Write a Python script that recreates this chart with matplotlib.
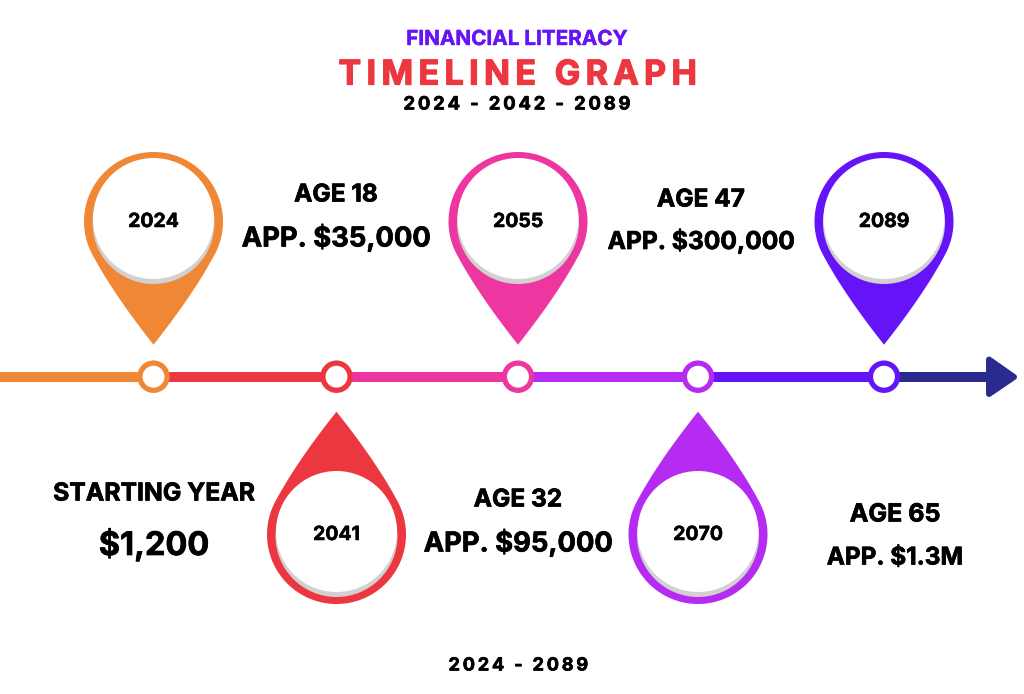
import numpy as np
import matplotlib
matplotlib.use("Agg")
import matplotlib.pyplot as plt
import matplotlib.patheffects as pe
from matplotlib.patches import Circle, Polygon

plt.rcParams['font.family'] = ['Inter', 'DejaVu Sans']

# data
years = ["2024", "2041", "2055", "2070", "2089"]
ages = ["STARTING YEAR", "AGE 18", "AGE 32", "AGE 47", "AGE 65"]
amounts = ["$1,200", "APP. $35,000", "APP. $95,000", "APP. $300,000", "APP. $1.3M"]
pin_colors = ["#F08735", "#EC3740", "#EE36A0", "#B52BF2", "#6414F6"]
end_color = "#2B2A8E"

# layout, in pixels of the 1024x694 picture
node_x = [153.5, 336.5, 518, 698, 884]
pin_up = [True, False, True, False, True]
line_y = 376.7
label_pos = [(154, 494, 545), (336, 195, 238), (518, 500, 543), (701, 200, 241), (895, 515, 558)]
label_size = [(17.8, 23.4), (17.6, 19.7), (17.6, 19.7), (17.6, 17.7), (18, 17.5)]
HS = "\u200a"

fig = plt.figure(figsize=(10.24, 6.94), dpi=100)
ax = fig.add_axes([0, 0, 1, 1])
ax.set_xlim(0, 1024)
ax.set_ylim(694, 0)
ax.axis("off")


def spaced(s, n=1):
    return (HS * n).join(s)


def label(x, y, s, size, color="black", stroke=0.5):
    t = ax.text(x, y, s, ha="center", va="center", fontsize=size, fontweight="bold", color=color, zorder=7)
    t.set_path_effects([pe.withStroke(linewidth=stroke, foreground=color)])


def draw_pin(x, up, color, year):
    # circle whose sides bulge a little on the way to the tip
    R = 69.5
    s = 1 if up else -1
    cy = line_y - (155.2 if up else -157.8)
    tip = line_y - (32 if up else -35)
    th = np.radians(118)
    t = np.linspace(-th, th, 120)
    arc = np.column_stack([R * np.sin(t), -s * R * np.cos(t)])
    p0 = arc[-1]
    p1 = p0 + 45 * np.array([np.cos(th), -s * np.sin(th)]) * np.array([1, -1])
    p2 = np.array([0, tip - cy])
    u = np.linspace(0, 1, 40)[:, None]
    right = (1 - u) ** 2 * p0 + 2 * u * (1 - u) * p1 + u ** 2 * p2
    left = right[::-1] * np.array([-1, 1])
    pts = np.vstack([arc, right, left]) + np.array([x, cy])
    ax.add_patch(Polygon(pts, closed=True, fc=color, ec="none", zorder=2))
    ax.add_patch(Circle((x, cy + 1.5), 61, fc="#D2D0D0", ec="none", zorder=3))
    ax.add_patch(Circle((x, cy - 3), 60.5, fc="white", ec="none", zorder=4))
    label(x, cy + 0.5, year, 14, stroke=0.4)


# line pieces, coloured by the node that they lead to
edges = [0] + node_x + [992]
for i in range(len(edges) - 1):
    c = pin_colors[i] if i < len(pin_colors) else end_color
    ax.plot([edges[i], edges[i + 1]], [line_y, line_y], color=c, lw=7.2, solid_capstyle="butt", zorder=1)

# arrow head
head = np.array([[989, 359.5], [1014, 377], [989, 394]])
ax.add_patch(Polygon(head, closed=True, fc=end_color, ec=end_color, lw=4.3, joinstyle="round", zorder=1))

for i in range(len(years)):
    draw_pin(node_x[i], pin_up[i], pin_colors[i], years[i])
    ax.add_patch(Circle((node_x[i], line_y), 13.6, fc="white", ec=pin_colors[i], lw=3.8, zorder=6))
    lx, y1, y2 = label_pos[i]
    s1, s2 = label_size[i]
    label(lx, y1, ages[i], s1)
    label(lx, y2, amounts[i], s2)

label(517, 39, "FINANCIAL LITERACY", 14.9, "#6414F6", 0.3)
label(517, 75.5, spaced("TIMELINE GRAPH", 2), 24.5, "#EC3740", 0.9)
label(518, 105, spaced("2024 - 2042 - 2089", 2), 13.2)
label(518, 666, spaced("2024 - 2089", 2), 13)

fig.savefig("out.png", dpi=100, facecolor="white")
